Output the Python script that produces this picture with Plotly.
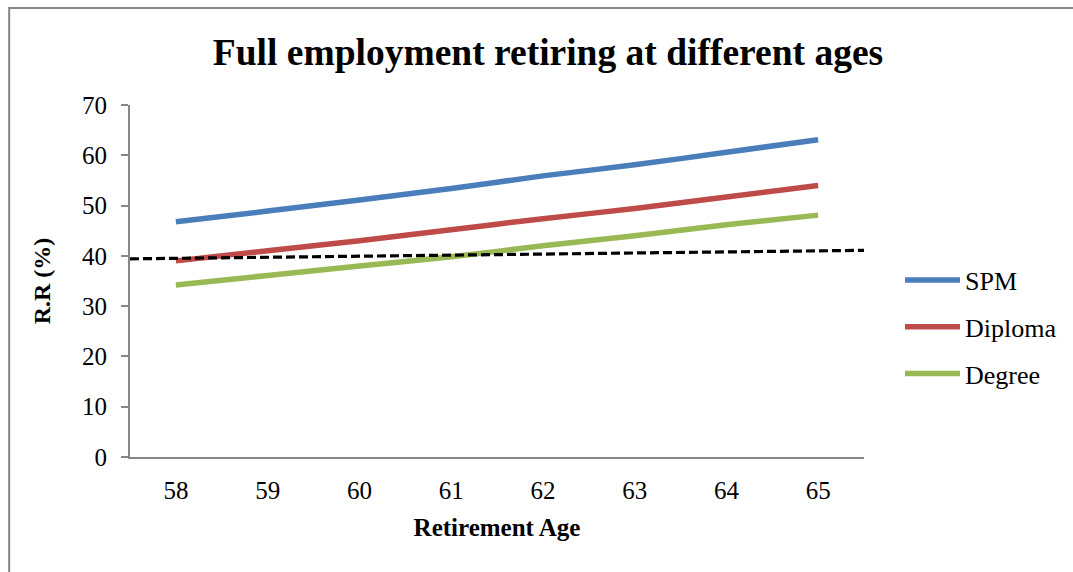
import plotly.graph_objects as go

# Retirement ages and replacement rates (%) per education level
ages = [58, 59, 60, 61, 62, 63, 64, 65]
spm = [46.8, 48.9, 51.1, 53.4, 55.9, 58.1, 60.6, 63.1]
diploma = [39.0, 41.0, 43.0, 45.2, 47.4, 49.4, 51.7, 54.0]
degree = [34.2, 36.1, 38.0, 39.8, 42.0, 44.0, 46.2, 48.1]

# Reference benchmark line across the full axis span
benchmark_x = [57.5, 65.5]
benchmark_y = [39.4, 41.1]

y_ticks = [0, 10, 20, 30, 40, 50, 60, 70]

FONT = "Times New Roman, Liberation Serif, serif"
GRAY = "#868686"

series = [
    ("SPM", spm, "#4A7EBB"),
    ("Diploma", diploma, "#BE4B48"),
    ("Degree", degree, "#98B954"),
]

fig = go.Figure()
for name, vals, color in series:
    fig.add_trace(go.Scatter(
        x=ages, y=vals, name=name, mode="lines",
        line=dict(color=color, width=5.5, shape="spline", smoothing=0.5),
        legendgroup=name,
    ))

fig.add_trace(go.Scatter(
    x=benchmark_x, y=benchmark_y, mode="lines", showlegend=False,
    line=dict(color="black", width=3.2, dash="9px,4px"),
    cliponaxis=False,
))

fig.update_layout(
    width=1073, height=572,
    margin=dict(l=130, r=208, t=105, b=115),
    paper_bgcolor="white", plot_bgcolor="white",
    font=dict(family=FONT, color="black", size=25),
    title=dict(
        text="<b>Full employment retiring at different ages</b>",
        font=dict(family=FONT, size=37.5, color="black"),
        x=548 / 1073, xanchor="center", xref="container",
        y=1 - 52 / 572, yanchor="middle", yref="container",
    ),
    xaxis=dict(
        range=[57.5, 65.5], tickmode="array", tickvals=ages,
        ticktext=[str(a) for a in ages],
        showgrid=False, zeroline=False,
        showline=True, linecolor=GRAY, linewidth=1.8,
        ticks="", ticklabelstandoff=10,
        tickfont=dict(family=FONT, size=25, color="black"),
        title=dict(text="<b>Retirement Age</b>", standoff=16,
                   font=dict(family=FONT, size=25, color="black")),
    ),
    yaxis=dict(
        range=[0, 70], tickmode="array", tickvals=y_ticks,
        showgrid=False, zeroline=False,
        showline=True, linecolor=GRAY, linewidth=1.8,
        ticks="outside", ticklen=7, tickcolor=GRAY, tickwidth=1.5,
        ticklabelstandoff=9,
        tickfont=dict(family=FONT, size=25, color="black"),
        title=dict(text="<b>R.R (%)</b>", standoff=25,
                   font=dict(family=FONT, size=24, color="black")),
    ),
    legend=dict(
        x=(900 - 130) / 735, xanchor="left",
        y=(457 - 327) / 352, yanchor="middle",
        font=dict(family=FONT, size=26, color="black"),
        itemwidth=55, tracegroupgap=10,
        bgcolor="rgba(0,0,0,0)",
    ),
    shapes=[dict(
        type="rect", xref="paper", yref="paper",
        x0=(9 - 130) / 735, x1=(1110 - 130) / 735,
        y0=(457 - 600) / 352, y1=(457 - 8) / 352,
        line=dict(color=GRAY, width=2), fillcolor="rgba(0,0,0,0)",
        layer="below",
    )],
)

fig.write_html("out.html")
